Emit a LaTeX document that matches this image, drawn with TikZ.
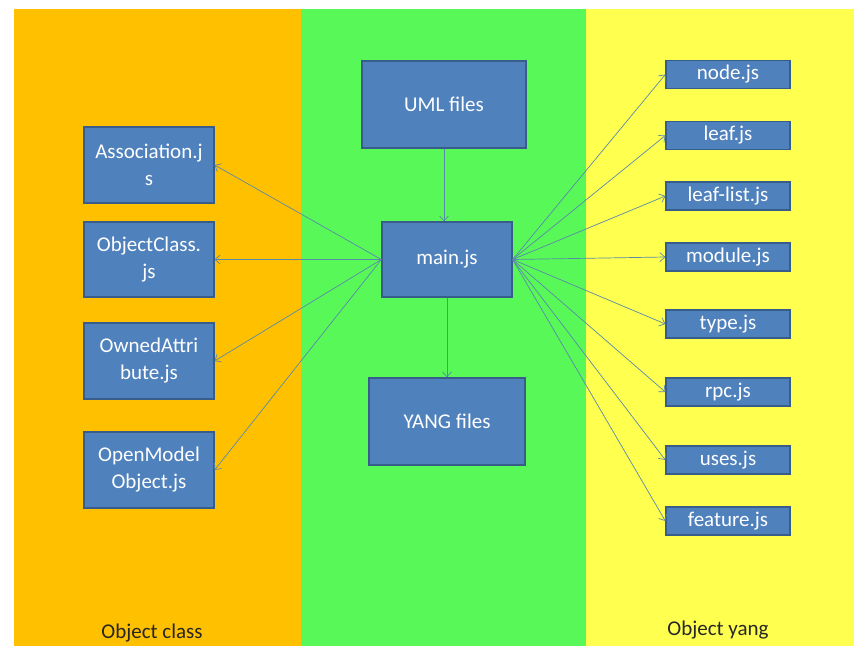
\documentclass[tikz,border=0pt]{standalone}
\usepackage{fontspec}
\setmainfont{Carlito}
\usetikzlibrary{arrows.meta}
\definecolor{bandorange}{RGB}{255,192,0}
\definecolor{bandgreen}{RGB}{88,248,88}
\definecolor{bandyellow}{RGB}{255,255,80}
\definecolor{boxfill}{RGB}{79,129,189}
\definecolor{boxline}{RGB}{56,93,138}
\definecolor{wire}{RGB}{90,138,170}
\tikzset{
  filebox/.style={draw=boxline, line width=1.2pt, fill=boxfill, text=white,
    font=\fontsize{21}{27}\selectfont, align=center, inner sep=0pt},
  flow/.style={draw=wire, line width=0.7pt, -{Straight Barb[length=5pt,width=9pt]}},
  bandlabel/.style={font=\fontsize{21}{24}\selectfont, text=black!85}
}
\begin{document}
\begin{tikzpicture}[x=1pt,y=-1pt]
\useasboundingbox (0,0) rectangle (854,646);
\fill[white] (0,0) rectangle (854,646);
% three coloured bands
\fill[bandorange] (14,9) rectangle (301,646);
\fill[bandgreen] (301,9) rectangle (586,646);
\fill[bandyellow] (586,9) rectangle (854,646);

% centre column
\node[filebox, minimum width=164pt, minimum height=87pt] (uml) at (444,104.5) {UML files};
\node[filebox, minimum width=130pt, minimum height=75pt] (main) at (447,259.5) {main.js};
\node[filebox, minimum width=156pt, minimum height=87pt] (yang) at (447,421.5) {YANG files};

% object class column
\node[filebox, minimum width=130pt, minimum height=76pt] (assoc) at (149,165) {Association.j\\s};
\node[filebox, minimum width=130pt, minimum height=75pt] (objcls) at (149,259.5) {ObjectClass.\\js};
\node[filebox, minimum width=130pt, minimum height=76pt] (owned) at (149,361) {OwnedAttri\\bute.js};
\node[filebox, minimum width=130pt, minimum height=76pt] (openm) at (149,470) {OpenModel\\Object.js};

% yang column
\foreach \n/\t/\y in {ynode/node.js/74.5, yleaf/leaf.js/135.5, yleaflist/leaf-list.js/196,
  ymodule/module.js/257, ytype/type.js/324, yrpc/rpc.js/392, yuses/uses.js/460, yfeature/feature.js/521}
  \node[filebox, minimum width=124pt, minimum height=28pt] (\n) at (728,\y) {\t};

% connectors
\draw[flow] (uml.south -| 444,0) -- (main.north -| 444,0);
\draw[flow] (main) -- (yang);
\foreach \t in {assoc, objcls, owned, openm}
  \draw[flow] (main.west) -- (\t.east);
\foreach \t in {ynode, yleaf, yleaflist, ymodule, ytype, yrpc, yuses, yfeature}
  \draw[flow] (main.east) -- (\t.west);

% band captions
\node[bandlabel] (capclass) at (152,633) {Object class};
\node[bandlabel] (capyang) at (718,630) {Object yang};
\end{tikzpicture}
\end{document}
